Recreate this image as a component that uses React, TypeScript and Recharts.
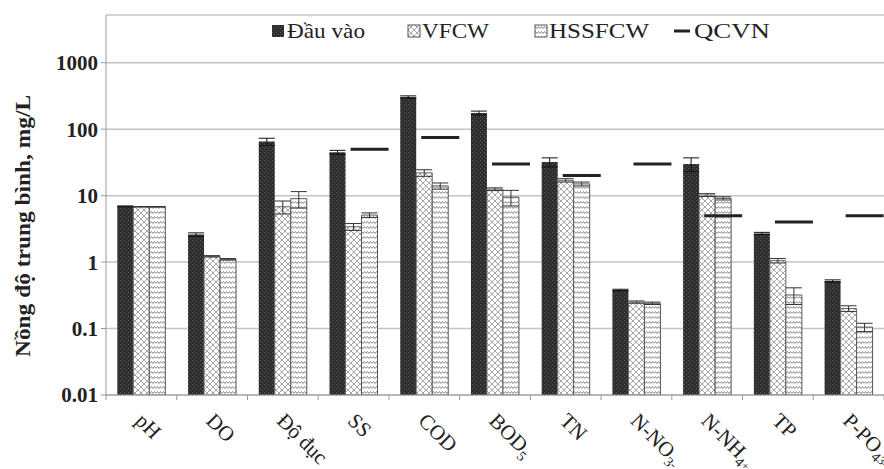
import React from 'react';
import { ComposedChart, Bar, Line, XAxis, YAxis, CartesianGrid, ErrorBar } from 'recharts';

const nfc = (s: string) => s.normalize('NFC');

const categories = ['pH', 'DO', 'Độ đục', 'SS', 'COD', 'BOD5', 'TN', 'N-NO3-', 'N-NH4+', 'TP', 'P-PO43-'].map(nfc);

// tick labels split into plain / subscript / superscript parts
const tickLabels = [
  [{ t: 'pH' }],
  [{ t: 'DO' }],
  [{ t: nfc('Độ đục') }],
  [{ t: 'SS' }],
  [{ t: 'COD' }],
  [{ t: 'BOD' }, { t: '5', s: 'sub' }],
  [{ t: 'TN' }],
  [{ t: 'N-NO' }, { t: '3', s: 'sub' }, { t: '-', s: 'sup' }],
  [{ t: 'N-NH' }, { t: '4', s: 'sub' }, { t: '+', s: 'sup' }],
  [{ t: 'TP' }],
  [{ t: 'P-PO' }, { t: '4', s: 'sub' }, { t: '3-', s: 'sup' }],
];

const inflow = [6.9, 2.6, 65, 45, 305, 175, 32, 0.38, 30, 2.7, 0.52];
const vfcw = [6.8, 1.22, 6.8, 3.4, 22, 12.5, 17, 0.25, 10.2, 1.05, 0.2];
const hssfcw = [6.8, 1.1, 9, 5.1, 14, 9.5, 15, 0.24, 9.1, 0.32, 0.105];
const qcvn = [null, null, null, 50, 75, 30, 20, 30, 5, 4, 5];

const errInflow = [0.1, 0.15, 8, 3, 12, 12, 5, 0.01, 7, 0.1, 0.02];
const errVfcw = [0.05, 0.03, 1.5, 0.4, 2.5, 0.6, 1, 0.01, 0.5, 0.08, 0.02];
const errHssfcw = [0.05, 0.03, 2.5, 0.4, 1.5, 2.5, 1, 0.01, 0.5, 0.09, 0.015];

const yTicks = [0.01, 0.1, 1, 10, 100, 1000];

const data = categories.map((name, i) => ({
  name,
  inflow: inflow[i],
  vfcw: vfcw[i],
  hssfcw: hssfcw[i],
  qcvn: qcvn[i],
  eIn: errInflow[i],
  eV: errVfcw[i],
  eH: errHssfcw[i],
}));

const FONT = '"Liberation Serif", "DejaVu Serif", "Times New Roman", serif';
const W = 884;
const H = 469;
const BAND = (884 - 106) / categories.length;

function XTick(props: any) {
  const { x, y, payload, index } = props;
  const parts = tickLabels[payload.index ?? index] || [{ t: payload.value }];
  const sx = x - 7;
  const sy = y + 27;
  return (
    <g>
      <line x1={x + BAND / 2} y1={y} x2={x + BAND / 2} y2={y + 5} stroke="#999" />
      {index === 0 && <line x1={x - BAND / 2} y1={y} x2={x - BAND / 2} y2={y + 5} stroke="#999" />}
      <text x={sx} y={sy} transform={`rotate(45 ${sx} ${sy})`} fontFamily={FONT} fontSize={21} fill="#222">
        {parts.map((p, k) =>
          p.s === 'sub' ? (
            <tspan key={k} fontSize={14} dy={5}>{p.t}</tspan>
          ) : p.s === 'sup' ? (
            <tspan key={k} fontSize={12} dy={-2}>{p.t}</tspan>
          ) : (
            <tspan key={k}>{p.t}</tspan>
          )
        )}
      </text>
    </g>
  );
}

function QcvnDash(props: any) {
  const { cx, cy, index, value } = props;
  if (value == null || cy == null || isNaN(cy)) return <g key={`q${index}`} />;
  return <line key={`q${index}`} x1={cx - 3} y1={cy} x2={cx + 35} y2={cy} stroke="#222" strokeWidth={3} />;
}

export default function App() {
  return (
    <div style={{ position: 'absolute', left: 0, top: 0, width: W, height: H, background: '#fff' }}>
      <svg width={W} height={H} style={{ position: 'absolute', left: 0, top: 0, pointerEvents: 'none', zIndex: 2 }}>
        <defs>
          <pattern id="pIn" width="4" height="4" patternUnits="userSpaceOnUse">
            <rect width="4" height="4" fill="#2e2e2e" />
            <rect x="0" y="0" width="1" height="1" fill="#5c5c5c" />
            <rect x="2" y="2" width="1" height="1" fill="#5c5c5c" />
          </pattern>
          <pattern id="pV" width="6" height="6" patternUnits="userSpaceOnUse">
            <rect width="6" height="6" fill="#fff" />
            <path d="M0,0 L6,6 M6,0 L0,6" stroke="#9c9c9c" strokeWidth="0.9" />
          </pattern>
          <pattern id="pH" width="6" height="5" patternUnits="userSpaceOnUse">
            <rect width="6" height="5" fill="#fff" />
            <path d="M0,3.5 L1.5,1.5 L3,3.5 L4.5,1.5 L6,3.5" stroke="#8a8a8a" strokeWidth="1" fill="none" />
          </pattern>
        </defs>
        {/* y axis title */}
        <text
          x={30}
          y={226}
          transform="rotate(-90 30 226)"
          textAnchor="middle"
          fontFamily={FONT}
          fontSize={20}
          fontWeight="bold"
          fill="#222"
          textLength={262}
          lengthAdjust="spacingAndGlyphs"
        >
          {nfc('Nồng độ trung bình, mg/L')}
        </text>
        {/* legend */}
        <g fontFamily={FONT} fontSize={22} fill="#222">
          <rect x={272} y={25} width={12} height={12} fill="url(#pIn)" />
          <text x={287} y={38} textLength={78} lengthAdjust="spacingAndGlyphs">{nfc('Đầu vào')}</text>
          <rect x={408} y={25} width={12} height={12} fill="url(#pV)" stroke="#555" />
          <text x={422} y={38} textLength={67} lengthAdjust="spacingAndGlyphs">VFCW</text>
          <rect x={535} y={25} width={12} height={12} fill="url(#pH)" stroke="#555" />
          <text x={549} y={38} textLength={100} lengthAdjust="spacingAndGlyphs">HSSFCW</text>
          <line x1={674} y1={31} x2={690} y2={31} stroke="#222" strokeWidth={3} />
          <text x={694} y={38} textLength={76} lengthAdjust="spacingAndGlyphs">QCVN</text>
        </g>
      </svg>
      <ComposedChart
        width={W}
        height={H}
        data={data}
        margin={{ top: 15, right: 0, bottom: 0, left: 0 }}
        barCategoryGap="16%"
        barGap={0}
      >
        <CartesianGrid vertical={false} stroke="#c4c4c4" strokeWidth={1.5} />
        <XAxis
          dataKey="name"
          interval={0}
          tickLine={false}
          tickSize={0}
          tickMargin={0}
          axisLine={{ stroke: '#999' }}
          tick={<XTick />}
          height={74}
        />
        <YAxis
          scale="log"
          domain={[0.01, 5224]}
          allowDataOverflow
          ticks={yTicks}
          interval={0}
          width={106}
          tickSize={5}
          tickMargin={3}
          tickLine={{ stroke: '#999' }}
          axisLine={{ stroke: '#999' }}
          tickFormatter={(v: number) => String(v)}
          tick={{ fontFamily: FONT, fontSize: 21, fontWeight: 'bold', fill: '#222' }}
        />
        <Bar dataKey="inflow" fill="url(#pIn)" isAnimationActive={false}>
          <ErrorBar dataKey="eIn" width={8} stroke="#111" strokeWidth={1} direction="y" />
        </Bar>
        <Bar dataKey="vfcw" fill="url(#pV)" stroke="#666" strokeWidth={1} isAnimationActive={false}>
          <ErrorBar dataKey="eV" width={8} stroke="#333" strokeWidth={1} direction="y" />
        </Bar>
        <Bar dataKey="hssfcw" fill="url(#pH)" stroke="#555" strokeWidth={1} isAnimationActive={false}>
          <ErrorBar dataKey="eH" width={8} stroke="#333" strokeWidth={1} direction="y" />
        </Bar>
        <Line
          dataKey="qcvn"
          stroke="none"
          dot={QcvnDash}
          activeDot={false}
          legendType="none"
          isAnimationActive={false}
        />
      </ComposedChart>
    </div>
  );
}
